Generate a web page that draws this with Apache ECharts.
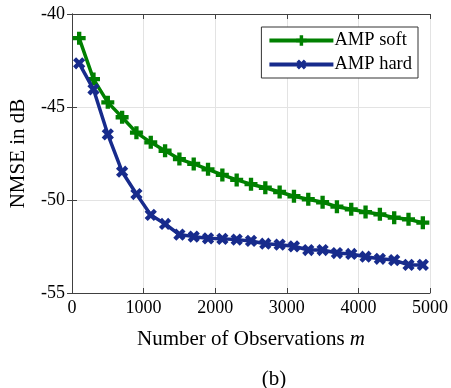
<!DOCTYPE html>
<html>
<head>
<meta charset="utf-8">
<script src="https://cdn.jsdelivr.net/npm/echarts@6/dist/echarts.min.js"></script>
<style>
  html, body { margin: 0; padding: 0; background: #fff; }
  #chart { width: 451px; height: 388px; }
</style>
</head>
<body>
<div id="chart"></div>
<script>
  // observations m
  const observations = [100, 300, 500, 700, 900, 1100, 1300, 1500, 1700, 1900, 2100, 2300, 2500,
    2700, 2900, 3100, 3300, 3500, 3700, 3900, 4100, 4300, 4500, 4700, 4900]
  // NMSE in dB
  const ampSoft = [-41.3, -43.5, -44.75, -45.55, -46.38, -46.9, -47.35, -47.8, -48.06, -48.35, -48.65, -48.92, -49.15,
    -49.34, -49.57, -49.8, -49.96, -50.12, -50.36, -50.5, -50.65, -50.77, -50.95, -51.04, -51.22]
  const ampHard = [-42.65, -44.05, -46.47, -48.48, -49.68, -50.8, -51.29, -51.86, -51.97, -52.06, -52.09, -52.13, -52.2,
    -52.35, -52.4, -52.49, -52.69, -52.69, -52.85, -52.9, -53.05, -53.16, -53.23, -53.49, -53.49]
  const xTicks = [0, 1000, 2000, 3000, 4000, 5000]
  const yTicks = [-55, -50, -45, -40]

  const font = 'Liberation Serif'
  const axisGray = '#404040'
  const green = '#008000'
  const blue = '#172b8c'
  const plusPath = 'path://M2,0H4V2H6V4H4V6H2V4H0V2H2Z'

  const pairs = (ys) => observations.map((x, i) => [x, ys[i]])

  const chart = echarts.init(document.getElementById('chart'))

  // top / right axes only close the box
  const boxAxis = {
    axisLine: { show: true, lineStyle: { color: axisGray, width: 1 } },
    axisTick: { show: true, inside: true, length: 5, lineStyle: { color: axisGray } },
    axisLabel: { show: false },
    splitLine: { show: false },
  }

  chart.setOption({
    animation: false,
    textStyle: { fontFamily: font },
    title: {
      text: '(b)',
      left: 269,
      top: 364,
      textAlign: 'center',
      textStyle: { fontFamily: font, fontSize: 21, fontWeight: 'normal', color: '#000' },
    },
    grid: { left: 72, right: 20, top: 14, bottom: 95 },
    legend: {
      right: 33,
      top: 27,
      orient: 'vertical',
      itemWidth: 64,
      itemHeight: 13,
      itemGap: 5,
      padding: [4, 6, 4, 6],
      borderColor: '#333',
      borderWidth: 1,
      backgroundColor: '#fff',
      lineStyle: { width: 4 },
      textStyle: { fontFamily: font, fontSize: 18.5, color: '#000', padding: [0, 0, 0, -4] },
      data: ['AMP soft', 'AMP hard'],
    },
    xAxis: [
      {
        type: 'value',
        min: 0,
        max: 5000,
        interval: 1000,
        name: 'Number of Observations {i|m}',
        nameLocation: 'middle',
        nameGap: 36,
        nameTextStyle: {
          fontFamily: font,
          fontSize: 21,
          color: '#000',
          rich: { i: { fontFamily: font, fontSize: 21, fontStyle: 'italic', color: '#000' } },
        },
        axisLine: { show: true, onZero: false, lineStyle: { color: axisGray, width: 1 } },
        axisTick: { show: true, inside: true, length: 5, lineStyle: { color: axisGray } },
        axisLabel: {
          fontFamily: font,
          fontSize: 18,
          color: '#000',
          margin: 6,
          formatter: (v) => (xTicks.includes(v) ? String(v) : ''),
        },
        splitLine: { show: true, lineStyle: { color: '#e3e3e3', width: 1 } },
      },
      Object.assign({ type: 'value', position: 'top', min: 0, max: 5000, interval: 1000 }, boxAxis),
    ],
    yAxis: [
      {
        type: 'value',
        min: -55,
        max: -40,
        interval: 5,
        name: 'NMSE in dB',
        nameLocation: 'middle',
        nameGap: 43,
        nameTextStyle: { fontFamily: font, fontSize: 21, color: '#000' },
        axisLine: { show: true, onZero: false, lineStyle: { color: axisGray, width: 1 } },
        axisTick: { show: true, inside: true, length: 5, lineStyle: { color: axisGray } },
        axisLabel: {
          fontFamily: font,
          fontSize: 18,
          color: '#000',
          margin: 7,
          formatter: (v) => (yTicks.includes(v) ? String(v) : ''),
        },
        splitLine: { show: true, lineStyle: { color: '#e3e3e3', width: 1 } },
      },
      Object.assign({ type: 'value', position: 'right', min: -55, max: -40, interval: 5 }, boxAxis),
    ],
    series: [
      {
        name: 'AMP soft',
        type: 'line',
        data: pairs(ampSoft),
        symbol: plusPath,
        symbolSize: 13,
        showAllSymbol: true,
        lineStyle: { color: green, width: 3.5 },
        itemStyle: { color: green },
        z: 3,
      },
      {
        name: 'AMP hard',
        type: 'line',
        data: pairs(ampHard),
        symbol: plusPath,
        symbolSize: 13,
        symbolRotate: 45,
        showAllSymbol: true,
        lineStyle: { color: blue, width: 3.5 },
        itemStyle: { color: blue },
        z: 4,
      },
    ],
  })
</script>
</body>
</html>
